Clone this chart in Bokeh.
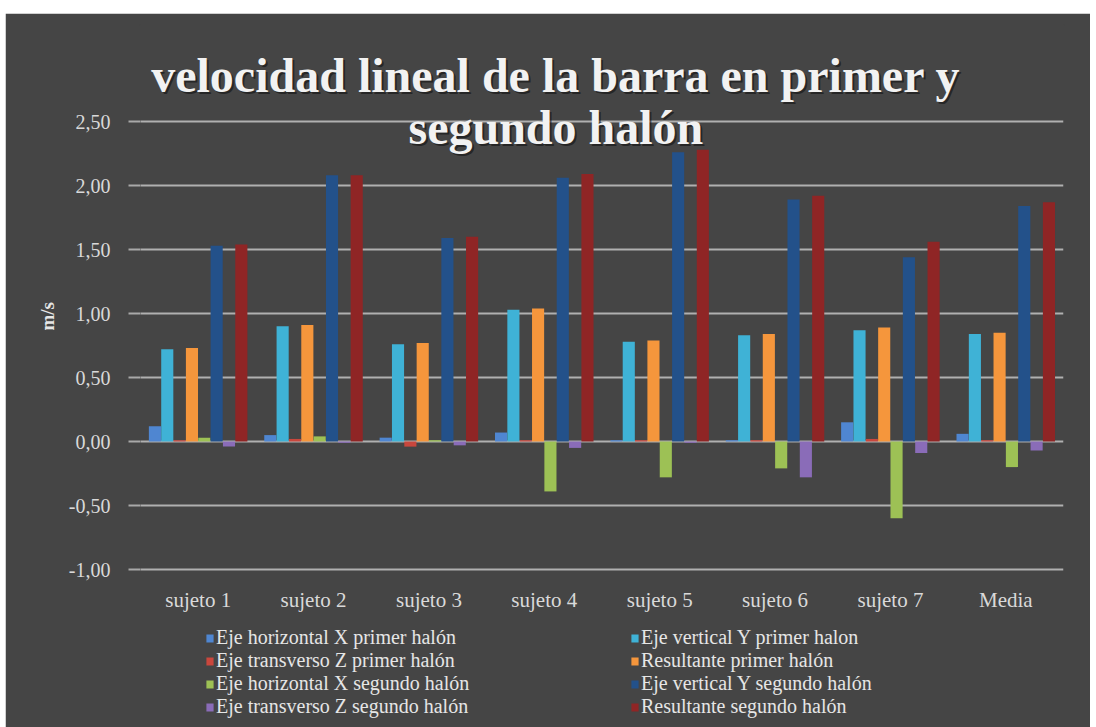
from bokeh.plotting import figure
from bokeh.models import (FactorRange, Range1d, FixedTicker, CustomJSTickFormatter,
                          Legend, LegendItem, Label, ColumnDataSource, Title, Spacer)
from bokeh.layouts import column, row
from bokeh.core.properties import value
from bokeh.transform import dodge
from bokeh.embed import file_html
from bokeh.resources import INLINE

categories = ["sujeto 1", "sujeto 2", "sujeto 3", "sujeto 4",
              "sujeto 5", "sujeto 6", "sujeto 7", "Media"]

x_primer = [0.12, 0.05, 0.03, 0.07, 0.01, 0.01, 0.15, 0.06]
y_primer = [0.72, 0.90, 0.76, 1.03, 0.78, 0.83, 0.87, 0.84]
z_primer = [0.01, 0.02, -0.04, 0.01, 0.01, 0.01, 0.02, 0.01]
res_primer = [0.73, 0.91, 0.77, 1.04, 0.79, 0.84, 0.89, 0.85]
x_segundo = [0.03, 0.04, 0.01, -0.39, -0.28, -0.21, -0.60, -0.20]
y_segundo = [1.53, 2.08, 1.59, 2.06, 2.26, 1.89, 1.44, 1.84]
z_segundo = [-0.04, -0.01, -0.03, -0.05, -0.01, -0.28, -0.09, -0.07]
res_segundo = [1.54, 2.08, 1.60, 2.09, 2.28, 1.92, 1.56, 1.87]

series_names = ["Eje horizontal X primer halón", "Eje vertical Y primer halon",
                "Eje transverso Z primer halón", "Resultante primer halón",
                "Eje horizontal X segundo halón", "Eje vertical Y segundo halón",
                "Eje transverso Z segundo halón", "Resultante segundo halón"]
series_values = [x_primer, y_primer, z_primer, res_primer,
                 x_segundo, y_segundo, z_segundo, res_segundo]
series_colors = ["#4F86D1", "#3FB2D6", "#C9473D", "#F5963C",
                 "#9DC155", "#23518A", "#8A6CB8", "#8F2525"]

y_ticks = [-1.0, -0.5, 0.0, 0.5, 1.0, 1.5, 2.0, 2.5]

FONT = "Liberation Serif"
BG = "#454545"

data = {"cat": categories}
for i, vals in enumerate(series_values):
    data[f"s{i}"] = vals
source = ColumnDataSource(data)

W, H = 1085, 714
TOP = 12
PX_PER_UNIT = 128.0
y_top = 3.25
y_bottom = y_top - (H - TOP) / PX_PER_UNIT

p = figure(x_range=FactorRange(*categories), y_range=Range1d(y_bottom, y_top),
           width=W, height=H, output_backend="svg", toolbar_location=None,
           min_border_left=135, min_border_right=27, min_border_top=TOP,
           min_border_bottom=0)

p.background_fill_color = BG
p.border_fill_color = BG
p.outline_line_color = BG
p.outline_line_width = 3

slot = 0.107
renderers = []
for i in range(8):
    off = -0.375 + i * slot
    r = p.vbar(x=dodge("cat", off, range=p.x_range), top=f"s{i}", bottom=0,
               width=0.105, source=source, fill_color=series_colors[i],
               line_color=None)
    renderers.append(r)

# y axis
p.yaxis.ticker = FixedTicker(ticks=y_ticks)
p.yaxis.formatter = CustomJSTickFormatter(code="return tick.toFixed(2).replace('.', ',');")
p.yaxis.axis_line_color = None
p.yaxis.major_tick_out = 12
p.yaxis.major_tick_in = 0
p.yaxis.major_tick_line_color = "#a8a8a8"
p.yaxis.major_tick_line_width = 2
p.yaxis.minor_tick_line_color = None
p.yaxis.major_label_standoff = 18
p.yaxis.major_label_text_font = FONT
p.yaxis.major_label_text_font_size = "20px"
p.yaxis.major_label_text_color = "#d9d9d9"

# y-axis title "m/s" as a left-side title, placed at the middle of the value scale
p.add_layout(Title(text="m/s", align="left", offset=397,
                   text_font=FONT, text_font_style="bold", text_font_size="19px",
                   text_color="#e6e6e6", standoff=16), "left")

# categories written just under the -1,00 line
p.xaxis.visible = False
p.text(x="cat", y=-1.24, text="cat", source=source, text_align="center",
       text_baseline="middle", text_font=value(FONT), text_font_size="21px",
       text_color="#d9d9d9")

p.xgrid.grid_line_color = None
p.ygrid.grid_line_color = "#b0b0b0"
p.ygrid.grid_line_width = 2

# title (two lines) with soft shadow
title_lines = ["velocidad lineal de la barra en primer y", "segundo halón"]
title_y = [2.86, 2.45]
for txt, ty in zip(title_lines, title_y):
    p.add_layout(Label(x=3.6, y=ty, text=txt, text_align="center",
                       text_baseline="middle", text_font=FONT,
                       text_font_style="bold", text_font_size="48px",
                       text_color="#111111", text_alpha=0.6,
                       x_offset=2, y_offset=-2))
    p.add_layout(Label(x=3.6, y=ty, text=txt, text_align="center",
                       text_baseline="middle", text_font=FONT,
                       text_font_style="bold", text_font_size="48px",
                       text_color="#f2f2f2"))

# legend: two columns, read row by row (column-major fill -> reorder)
order = [0, 2, 4, 6, 1, 3, 5, 7]
legend = Legend(items=[LegendItem(label=series_names[k], renderers=[renderers[k]])
                       for k in order],
                ncols=2, location=(63, 7),
                background_fill_alpha=0, border_line_alpha=0,
                label_text_font=FONT, label_text_font_size="20px",
                label_text_color="#e6e6e6", glyph_width=9, glyph_height=10,
                label_standoff=2, spacing=0, padding=2, label_width=414,
                label_height=20, margin=0)
p.add_layout(legend, "center")

layout = column(Spacer(height=13, width=W + 5),
                row(Spacer(width=5, height=H), p, spacing=0), spacing=0)

open("out.html", "w").write(file_html(layout, INLINE))
